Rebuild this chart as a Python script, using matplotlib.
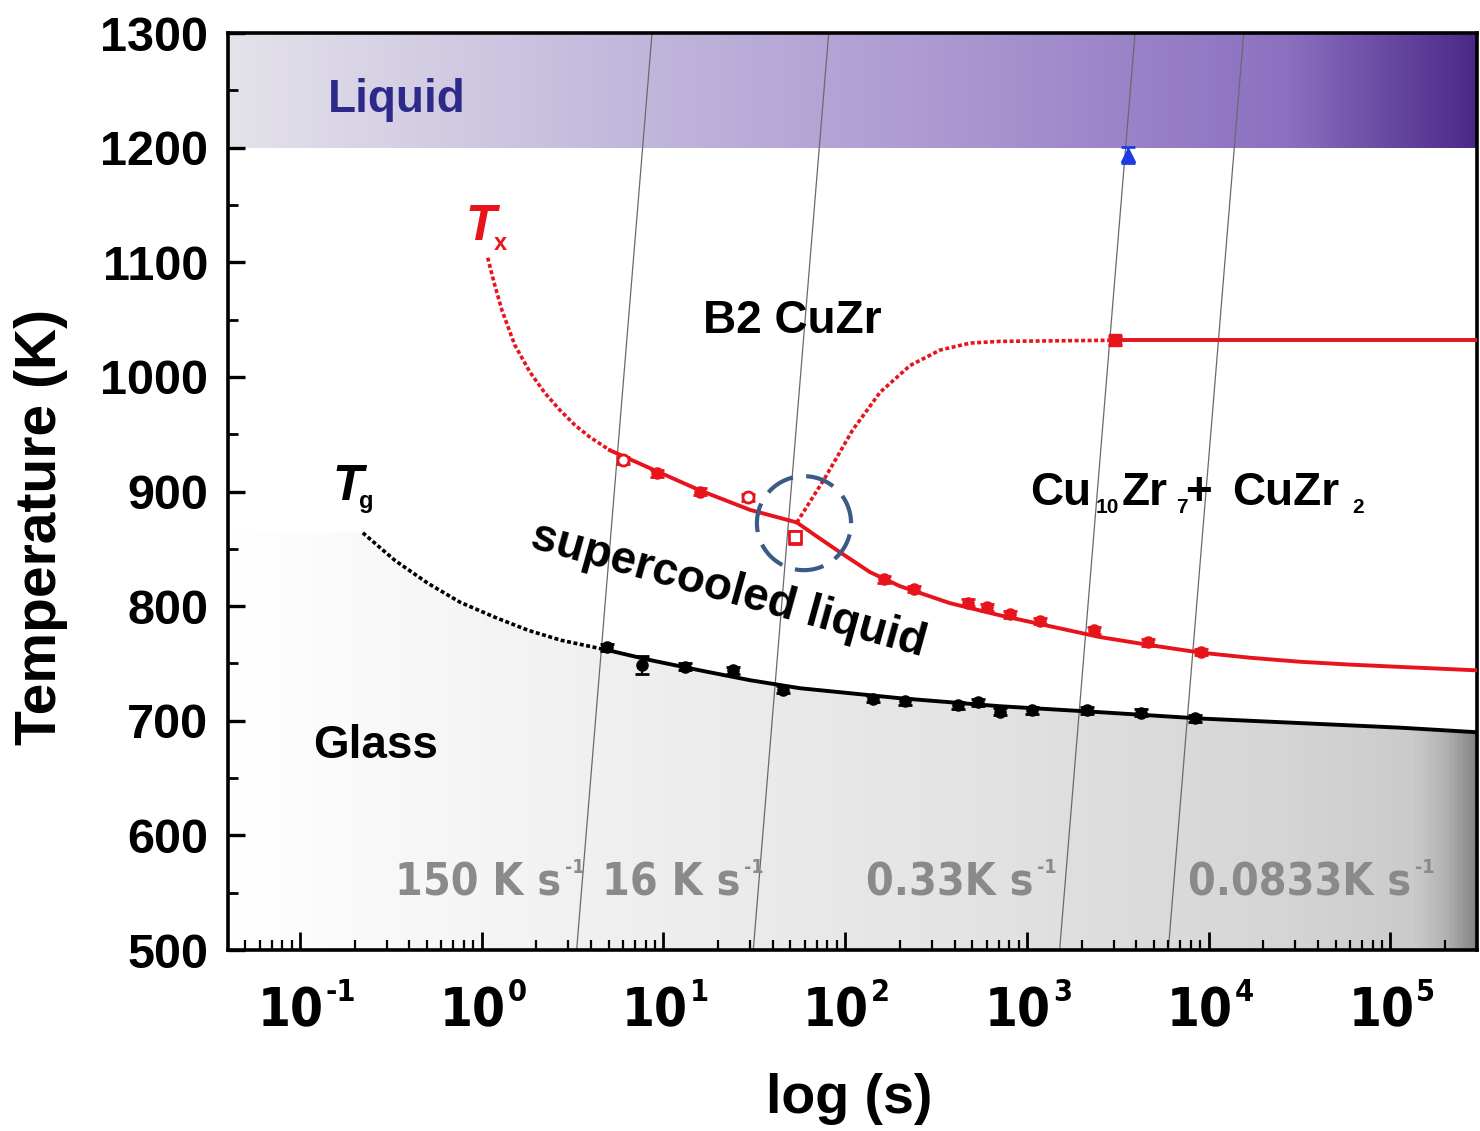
import numpy as np
import matplotlib
matplotlib.use("Agg")
import matplotlib.pyplot as plt
from matplotlib import font_manager
from matplotlib.font_manager import FontProperties
from matplotlib.colors import LinearSegmentedColormap
from matplotlib.ticker import LogLocator, NullFormatter, MultipleLocator
from matplotlib.transforms import blended_transform_factory, offset_copy

# Tg: measured glass transition (s, K)
tg_time = [4.9, 7.6, 13.2, 24.2, 45.5, 142.6, 214, 417, 539, 713, 1067, 2150, 4240, 8430]
tg_temp = [764, 748.5, 747, 744, 727, 719, 717, 713.6, 716, 708, 709, 709, 707, 702]
tg_err = [3, 8, 3, 3, 3, 3, 3, 3, 3, 3, 3, 3, 3, 3]

# Tg fit, dotted (extrapolated) part and solid part
tg_fit_dot_time = [0.222, 0.333, 0.506, 0.76, 1.18, 1.8, 2.73, 4.95]
tg_fit_dot_temp = [864, 840, 820, 803.5, 790.4, 779, 770.3, 761.6]
tg_fit_time = [4.95, 8.43, 15.9, 30.0, 56.5, 200, 711, 2530, 8980, 31850, 113200, 300000]
tg_fit_temp = [761.6, 753, 744, 735.4, 728.4, 719.7, 712.7, 707.5, 702, 698, 694, 690]

# Tx: crystallisation onset
tx_time = [9.2, 15.9, 164, 240, 474, 603, 809, 1183, 2345, 4650, 9120]
tx_temp = [916, 900, 823.6, 815, 803, 799, 793, 787, 779, 768.6, 760]
tx_open_time = [6.0, 29.2]
tx_open_temp = [927.4, 895]
tx_sq_time = [53]
tx_sq_temp = [860]
tx_high_time = [3055]
tx_high_temp = [1032]
liq_time = [3600]
liq_temp = [1194]

tx_fit_dot_time = [1.08, 1.169, 1.293, 1.52, 1.845, 2.23, 2.70, 3.26, 3.94, 5.08]
tx_fit_dot_temp = [1104, 1082.7, 1058.3, 1028, 1004.2, 985.9, 971, 958, 947.5, 936]
tx_fit_time = [5.08, 8.43, 15.9, 30.0, 54.3, 68.2, 93.8, 137, 200, 378, 711,
               1342, 2530, 4764, 8980, 16900, 31850, 60100, 113200, 300000]
tx_fit_temp = [936, 920.4, 901, 884, 873, 862, 847, 829.7, 817.5, 802.6, 792,
               782.5, 773, 766, 759.5, 755, 751.5, 749, 747, 744]

# upper branch (Cu10Zr7 + CuZr2)
rise_dot_time = [54.3, 77.4, 110, 156, 228, 333, 487, 711, 3055]
rise_dot_temp = [873, 911.7, 953.6, 986.7, 1010, 1023.4, 1029.5, 1031, 1032]
rise_time = [3055, 300000]
rise_temp = [1032, 1032]

# constant heating rates (K/s)
rates = [150, 16, 0.33, 0.0833]
rate_text = ["150 K s", "16 K s", "0.33K s", "0.0833K s"]
rate_label_x = [0.3334, 4.59, 130, 7710]
decades = [-1, 0, 1, 2, 3, 4, 5]

XMIN, XMAX = 0.0402, 3.0e5
YMIN, YMAX = 500, 1300


def buscar_condensada():
    candidatos = [("Liberation Sans Narrow", "normal"), ("DejaVu Sans", "condensed"),
                  ("Noto Sans", "condensed"), ("Roboto Condensed", "normal"),
                  ("Open Sans", "condensed")]
    for fam, stretch in candidatos:
        prop = FontProperties(family=fam, weight="bold", stretch=stretch)
        try:
            path = font_manager.findfont(prop, fallback_to_default=False)
        except Exception:
            continue
        low = path.lower()
        if "narrow" in low or "condensed" in low:
            return path
    return None


COND = buscar_condensada()


def fp_cond(size):
    if COND:
        return FontProperties(fname=COND, size=size)
    return FontProperties(family="Liberation Sans", weight="bold", size=size * 0.88)


plt.rcParams["font.family"] = ["Liberation Sans", "DejaVu Sans"]
plt.rcParams["font.weight"] = "bold"

fig = plt.figure(figsize=(14.8, 11.31), dpi=100)
ax = fig.add_axes([0.154, 0.16, 0.844, 0.8108])
ax.set_xscale("log")
ax.set_autoscale_on(False)
ax.set_xlim(XMIN, XMAX)
ax.set_ylim(YMIN, YMAX)

# liquid band gradient
grad = np.linspace(0, 1, 512).reshape(1, -1)
liq_cmap = LinearSegmentedColormap.from_list(
    "liq", [(0, "#e4e2ea"), (0.3, "#c4badd"), (0.6, "#a995d0"), (0.85, "#8b70c0"), (1.0, "#4a2888")])
ax.imshow(grad, extent=(0, 1, (1200 - YMIN) / (YMAX - YMIN), 1), transform=ax.transAxes,
          aspect="auto", cmap=liq_cmap, zorder=0, interpolation="bilinear")

# glass region under Tg
glass_cmap = LinearSegmentedColormap.from_list(
    "glass", [(0, "#ffffff"), (0.3, "#f0f0f0"), (0.6, "#e3e3e3"), (0.85, "#d5d5d5"),
              (0.95, "#cbcbcb"), (0.975, "#b4b4b4"), (1.0, "#858585")])
glass_time = [XMIN] + tg_fit_dot_time + tg_fit_time[1:]
glass_temp = [tg_fit_dot_temp[0]] + tg_fit_dot_temp + tg_fit_temp[1:]
poly = ax.fill_between(glass_time, YMIN, glass_temp, facecolor="none", edgecolor="none")
img = ax.imshow(grad, extent=(0, 1, 0, 1), transform=ax.transAxes, aspect="auto",
                cmap=glass_cmap, zorder=0, interpolation="bilinear")
img.set_clip_path(poly.get_paths()[0], transform=ax.transData)

# heating-rate lines t = T / rate
T_line = np.array([YMIN, YMAX])
for r in rates:
    ax.plot(T_line / r, T_line, color="#6a6a6a", lw=0.9, zorder=1)

# fits
red = "#e8141c"
dots = (0, (1.1, 0.7))
ax.plot(tg_fit_dot_time, tg_fit_dot_temp, color="black", lw=2.6, ls=dots, zorder=3)
ax.plot(tg_fit_time, tg_fit_temp, color="black", lw=2.8, zorder=3)
ax.plot(tx_fit_dot_time, tx_fit_dot_temp, color=red, lw=2.6, ls=dots, zorder=3)
ax.plot(tx_fit_time, tx_fit_temp, color=red, lw=2.8, zorder=3)
ax.plot(rise_dot_time, rise_dot_temp, color=red, lw=2.6, ls=dots, zorder=3)
ax.plot(rise_time, rise_temp, color=red, lw=2.8, zorder=3)

# data points
eb = dict(capsize=5, elinewidth=1.6, capthick=2, zorder=4, ls="none")
ax.errorbar(tg_time, tg_temp, yerr=tg_err, fmt="o", ms=8, color="black", **eb)
ax.errorbar(tx_time, tx_temp, yerr=3, fmt="o", ms=8, color=red, **eb)
ax.errorbar(tx_open_time, tx_open_temp, yerr=3, fmt="o", ms=8, color=red, mfc="white",
            mew=2, **eb)
ax.errorbar(tx_sq_time, tx_sq_temp, yerr=6, fmt="s", ms=8, color=red, mfc="white", mew=2, **eb)
ax.errorbar(tx_high_time, tx_high_temp, yerr=4, fmt="s", ms=8, color=red, **eb)
ax.errorbar(liq_time, liq_temp, yerr=7, fmt="^", ms=10, color="#1f3be0", **eb)

# dashed ring at the branch point
th = np.linspace(0, 2 * np.pi, 300)
ax.plot(10 ** (np.log10(59.4) + 0.259 * np.cos(th)), 872.4 + 41 * np.sin(th),
        color="#3c5a86", lw=3, ls=(0, (7, 3.2)), zorder=5)

# region labels
ax.text(0.1426, 1231, "Liquid", color="#2d2a8c", fontsize=33, fontweight="bold")
ax.text(16.5, 1038, "B2 CuZr", color="black", fontsize=33, fontweight="bold")
ax.text(0.118, 667.4, "Glass", color="black", fontsize=33, fontweight="bold")
ax.text(22.7, 814, "supercooled liquid", color="black", fontsize=33, fontweight="bold",
        rotation=-15.5, ha="center", va="center", rotation_mode="anchor")
ax.text(1041, 888, "Cu", fontsize=33, fontweight="bold")
ax.text(2404, 881, "10", fontsize=15, fontweight="bold")
ax.text(3342, 888, "Zr", fontsize=33, fontweight="bold")
ax.text(6623, 881, "7", fontsize=15, fontweight="bold")
ax.text(7430, 888, "+", fontsize=33, fontweight="bold")
ax.text(13490, 888, "CuZr", fontsize=33, fontweight="bold")
ax.text(61660, 881, "2", fontsize=15, fontweight="bold")

ax.text(0.81, 1119, "T", color=red, fontsize=36, fontweight="bold", fontstyle="italic")
ax.text(1.17, 1111, "x", color=red, fontsize=17, fontweight="bold")
ax.text(0.152, 892.5, "T", color="black", fontsize=36, fontweight="bold", fontstyle="italic")
ax.text(0.212, 886, "g", color="black", fontsize=17, fontweight="bold")

# heating-rate labels with a small "-1" superscript
for txt, x0 in zip(rate_text, rate_label_x):
    t = ax.text(x0, 547.8, txt, color="#8a8a8a", fontproperties=fp_cond(32), zorder=2)
    ax.annotate("-1", xy=(1, 1), xycoords=t, xytext=(3, 2), textcoords="offset points",
                ha="left", va="top", color="#8a8a8a", fontproperties=fp_cond(14), zorder=2)

# axes styling
for s in ax.spines.values():
    s.set_linewidth(2.6)
ax.xaxis.set_major_locator(LogLocator(base=10, numticks=20))
ax.xaxis.set_minor_locator(LogLocator(base=10, subs=np.arange(2, 10), numticks=20))
ax.xaxis.set_minor_formatter(NullFormatter())
ax.xaxis.set_major_formatter(NullFormatter())
ax.yaxis.set_major_locator(MultipleLocator(100))
ax.yaxis.set_minor_locator(MultipleLocator(50))
ax.tick_params(axis="both", which="both", direction="in", top=False, right=False)
ax.tick_params(axis="x", which="major", length=13, width=2)
ax.tick_params(axis="x", which="minor", length=7, width=1.6)
ax.tick_params(axis="y", which="major", length=12, width=2.4, labelsize=35, pad=14)
ax.tick_params(axis="y", which="minor", length=7, width=2)
for lab in ax.get_yticklabels():
    lab.set_fontweight("bold")

# x tick labels: "10" plus a raised exponent
xlab_tr = blended_transform_factory(ax.transData, ax.transAxes)
for d in decades:
    base = ax.text(10.0 ** d, -0.038, "10", ha="right", va="top", color="black",
                   transform=offset_copy(xlab_tr, fig=fig, x=24, y=0, units="dots"),
                   fontproperties=fp_cond(38), clip_on=False)
    ax.annotate(str(d), xy=(1, 1), xycoords=base, xytext=(1.5, 5), textcoords="offset points",
                ha="left", va="top", fontproperties=fp_cond(22), annotation_clip=False)

ax.set_ylabel("Temperature (K)", fontsize=41, fontweight="bold")
ax.set_xlabel("log (s)", fontsize=40, fontweight="bold")
ax.yaxis.set_label_coords(-0.128, 0.461)
ax.xaxis.set_label_coords(0.4976, -0.134)

fig.savefig("out.png", dpi=100)
